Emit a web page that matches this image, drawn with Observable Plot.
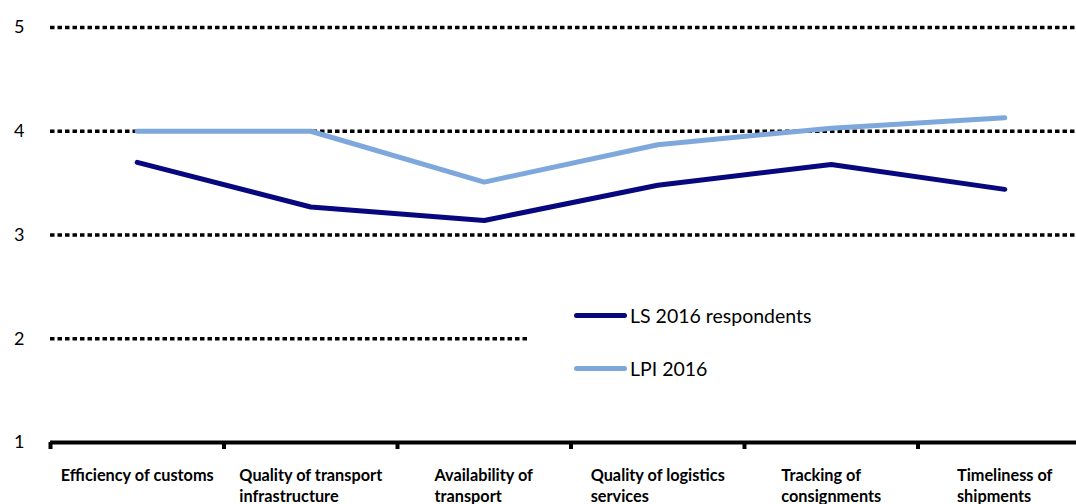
<!DOCTYPE html>
<html>
<head>
<meta charset="utf-8">
<script src="https://cdn.jsdelivr.net/npm/d3@7"></script>
<script src="https://cdn.jsdelivr.net/npm/@observablehq/plot@0.6"></script>
<style>
  html, body { margin: 0; padding: 0; background: #fff; }
  body { width: 1076px; height: 504px; overflow: hidden; position: relative; font-family: Lato, "Liberation Sans", sans-serif; }
  #legend { position: absolute; left: 529px; top: 292px; width: 547px; height: 108px; background: #fff; }
  .item { position: absolute; left: 45px; display: flex; align-items: center; font-size: 19.5px; color: #000; }
  .sw { width: 53px; height: 5px; border-radius: 3px; margin-right: 3px; }
</style>
</head>
<body>
<div id="chart"></div>
<script>
const categories = [
  "Efficiency of customs",
  "Quality of transport\ninfrastructure",
  "Availability of\ntransport",
  "Quality of logistics\nservices",
  "Tracking of\nconsignments",
  "Timeliness of\nshipments"
];
const seriesNames = ["LS 2016 respondents", "LPI 2016"];
const lsValues  = [3.70, 3.27, 3.14, 3.48, 3.68, 3.44];
const lpiValues = [4.00, 4.00, 3.51, 3.87, 4.03, 4.13];
const colors = ["#08087e", "#7ea8dc"];
const yTicks = [1, 2, 3, 4, 5];
const gridTicks = [2, 3, 4, 5];

const boundaries = d3.range(categories.length);
const pos = (d, i) => i + 0.5;

const plot = Plot.plot({
  width: 1076,
  height: 504,
  marginLeft: 50,
  marginRight: 0,
  marginTop: 27,
  marginBottom: 62,
  style: { fontFamily: "Lato, 'Liberation Sans', sans-serif", background: "#fff", overflow: "visible" },
  x: { type: "linear", domain: [0, categories.length], range: [50, 1091] },
  y: { domain: [1, 5] },
  marks: [
    Plot.ruleY(gridTicks, { stroke: "#000", strokeWidth: 3.5, strokeDasharray: "4.5,3" }),
    Plot.axisY({ ticks: yTicks, tickSize: 0, tickPadding: 26, fontSize: 18, tickFormat: d3.format("d"), label: null }),
    Plot.ruleY([1], { stroke: "#000", strokeWidth: 4 }),
    Plot.axisX({ ticks: boundaries, tickSize: 7, tickFormat: () => "", strokeWidth: 4, label: null }),
    Plot.line(lsValues, { x: pos, y: d => d, stroke: colors[0], strokeWidth: 5, strokeLinecap: "round", strokeLinejoin: "round" }),
    Plot.line(lpiValues, { x: pos, y: d => d, stroke: colors[1], strokeWidth: 5, strokeLinecap: "round", strokeLinejoin: "round" }),
    Plot.text(categories, { x: pos, y: () => 1, dy: 23, text: d => d, lineAnchor: "top", lineHeight: 1.32, fontSize: 16.3, fontWeight: "bold", fill: "#000", className: "catlab" })
  ]
});
document.getElementById("chart").appendChild(plot);

// left-align wrapped lines within a centred block, like the original
d3.select(plot).selectAll(".catlab text").each(function () {
  const bb = this.getBBox();
  d3.select(this).attr("text-anchor", "start");
  d3.select(this).selectAll("tspan").attr("x", -bb.width / 2);
  if (this.childNodes.length && this.childNodes[0].nodeType === 3) {
    d3.select(this).attr("x", -bb.width / 2);
  }
});

// legend
const legend = document.createElement("div");
legend.id = "legend";
seriesNames.forEach((name, i) => {
  const item = document.createElement("div");
  item.className = "item";
  item.style.top = (i === 0 ? 12 : 65) + "px";
  const sw = document.createElement("div");
  sw.className = "sw";
  sw.style.background = colors[i];
  const t = document.createElement("span");
  t.textContent = name;
  item.appendChild(sw);
  item.appendChild(t);
  legend.appendChild(item);
});
document.body.appendChild(legend);
</script>
</body>
</html>
